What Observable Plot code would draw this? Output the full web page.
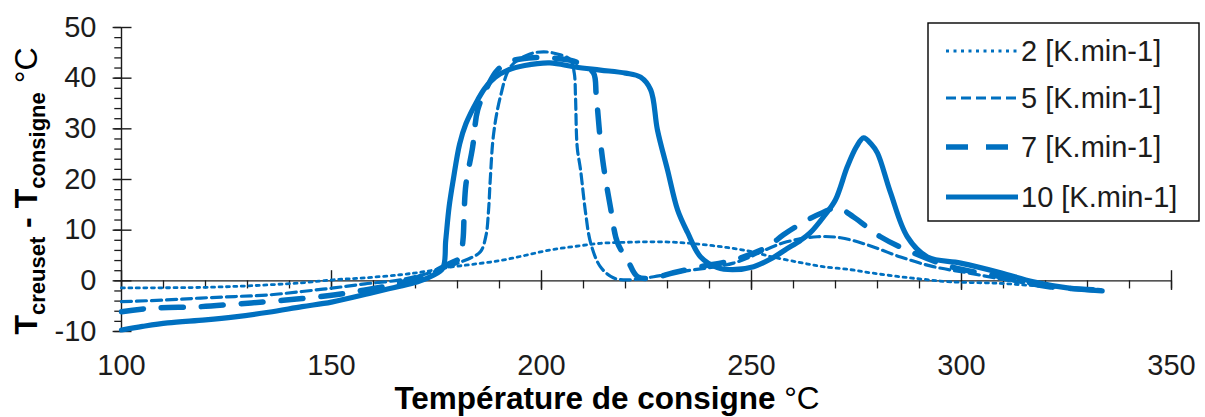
<!DOCTYPE html>
<html><head><meta charset="utf-8">
<script src="https://cdn.jsdelivr.net/npm/d3@7"></script>
<script src="https://cdn.jsdelivr.net/npm/@observablehq/plot@0.6"></script>
<style>
html,body{margin:0;padding:0;background:#fff;}
#chart{width:1205px;height:417px;overflow:hidden;}
</style></head><body><div id="chart"></div>
<script>
// ---- data ----
const seriesNames = ["2 [K.min-1]", "5 [K.min-1]", "7 [K.min-1]", "10 [K.min-1]"];

const t2 = [100, 118.8, 130, 142.6, 150.5, 158, 166.4, 172, 178.3, 184, 190.2, 196, 202.1, 208, 214, 220, 226, 232, 237.9, 244, 249.8, 255, 261.7, 267, 273.6, 279, 285.5, 291, 297.4, 309.3, 321.2, 333.5];
const v2 = [-1.4, -1.3, -1.0, -0.4, 0.2, 0.6, 1.2, 1.8, 2.7, 3.3, 4.0, 5.0, 6.1, 6.8, 7.4, 7.6, 7.7, 7.6, 7.2, 6.6, 5.8, 4.7, 3.6, 2.8, 2.2, 1.5, 0.8, 0.3, -0.2, -0.5, -1.2, -1.7];

const t5 = [100, 110, 118.8, 127, 134.8, 143, 150.5, 158, 166.4, 174.3, 178, 180.7, 183.1, 185.5, 186.8, 187.4, 187.8, 188.6, 190.2, 192.6, 196.7, 200.5, 204.5, 206.9, 207.8, 208.1, 208.5, 209.3, 210.5, 211.7, 214, 217.1, 220.5, 226.7, 233.1, 245.7, 257.6, 265.7, 271.2, 277.6, 285.5, 293.3, 301.4, 313.3, 325.2, 333.5];
const v5 = [-4.1, -3.8, -3.4, -3.1, -2.8, -2.1, -1.4, -0.6, 0.2, 1.8, 2.8, 3.7, 4.5, 5.8, 9, 14, 20, 29, 36.3, 42.2, 44.6, 45.2, 44.6, 43.6, 41, 36.3, 26.4, 21.9, 13.4, 7.5, 2.8, 0.6, 0.2, 0.8, 1.8, 3.5, 7.5, 8.7, 8.5, 7.1, 4.7, 2.8, 1.6, -0.2, -1.4, -1.8];

const t7 = [100, 107, 118.8, 127, 134.8, 143, 150.5, 158, 166.4, 174.3, 178.3, 180.5, 181.3, 181.6, 182, 183.6, 184.8, 187.1, 189.5, 193, 197, 202, 207, 210, 212.4, 213, 213.3, 214, 214.8, 216.4, 218.1, 220.5, 222.9, 226.7, 231.4, 237.9, 245.7, 253.8, 257.6, 263.3, 267, 270.5, 274.3, 280.7, 288.6, 297.4, 309.3, 321.2, 333.5];
const v7 = [-6.1, -5.4, -5.1, -4.6, -4.1, -3.5, -2.8, -1.8, -0.4, 1.8, 3.5, 4.5, 8, 14, 19, 26.4, 33.7, 38.3, 41.6, 43.4, 44, 44, 43.5, 42.5, 41, 37, 34.3, 27.8, 22.5, 14.6, 7.5, 4.1, 0.8, 0.6, 1.6, 2.8, 4.1, 6.7, 9.1, 12, 13.5, 14.4, 12.6, 8.7, 5.5, 2.8, 0.8, -1.2, -1.8];

const t10 = [100, 105, 111, 120, 127, 135, 143, 150, 159, 165, 170.5, 174, 176.5, 177.2, 178, 179, 180.5, 182, 184.8, 186.5, 189, 192, 196, 202, 208, 214, 220, 223.6, 226, 227.6, 230, 232.4, 234.8, 237.9, 241.9, 245.5, 250.5, 255, 258, 261.7, 264, 267.5, 270, 272.8, 275, 276.7, 278.5, 280, 283.1, 287.1, 291.9, 299.8, 309.3, 317.1, 325.2, 333.5];
const v10 = [-9.7, -9.0, -8.3, -7.7, -7.1, -6.2, -5.1, -4.2, -2.5, -1.3, -0.2, 1.0, 2.5, 8, 14.6, 20, 27, 31, 35.7, 38, 40.2, 41.6, 42.5, 43, 42.2, 41.6, 41, 40.2, 37.7, 29.8, 21.9, 14, 9.5, 4.7, 2.6, 2.2, 2.8, 4.5, 6.1, 8, 9.5, 13, 16, 22.5, 26.5, 28.2, 27, 25.2, 17.4, 8.7, 4.7, 3.5, 1.6, -0.2, -1.4, -2.0];

const xMajor = [100, 150, 200, 250, 300, 350];
const xMinor = d3.range(100, 351, 10);
const yMajor = [-10, 0, 10, 20, 30, 40, 50];
const yMinor = d3.range(-10, 51, 2);

// ---- build table ----
const tables = [[t2, v2], [t5, v5], [t7, v7], [t10, v10]];
const rows = [];
tables.forEach(([t, v], k) => t.forEach((x, i) => rows.push({series: seriesNames[k], t: x, v: v[i]})));

const BLUE = "#0070C0";
const INK = "#1c1c1c";
const styles = {
  "2 [K.min-1]": {w: 2.8, dash: "3,4.5"},
  "5 [K.min-1]": {w: 3.2, dash: "10,5"},
  "7 [K.min-1]": {w: 5.5, dash: "22,18"},
  "10 [K.min-1]": {w: 5.2, dash: null}
};
const FONT = "'Liberation Sans', Arial, sans-serif";

const lineMarks = seriesNames.map(s => Plot.line(rows.filter(r => r.series === s), {
  x: "t", y: "v", stroke: BLUE, strokeWidth: styles[s].w,
  strokeDasharray: styles[s].dash, curve: "catmull-rom",
  strokeLinejoin: "round"
}));

const plot = Plot.plot({
  width: 1205, height: 417,
  marginLeft: 121, marginRight: 34, marginTop: 27, marginBottom: 86,
  x: {domain: [100, 350]},
  y: {domain: [-10, 50]},
  style: {fontFamily: FONT, fontSize: "29px", color: INK, background: "white"},
  marks: [
    Plot.ruleX([100], {stroke: INK, strokeWidth: 1.4}),
    Plot.ruleY([0], {stroke: INK, strokeWidth: 1.4}),
    Plot.ruleY(yMinor, {y: d => d, x1: 98.4, x2: 100, stroke: INK, strokeWidth: 1.3}),
    Plot.ruleY(yMajor, {y: d => d, x1: 98.0, x2: 102.5, stroke: INK, strokeWidth: 1.4}),
    Plot.ruleX(xMinor, {x: d => d, y1: 0, y2: -1.6, stroke: INK, strokeWidth: 1.3}),
    Plot.ruleX(xMajor, {x: d => d, y1: -1.9, y2: 2, stroke: INK, strokeWidth: 1.4}),
    Plot.axisX({ticks: xMajor, tickSize: 0, tickPadding: 23, label: null, tickFormat: d => String(d), fill: INK}),
    Plot.axisY({ticks: yMajor, tickSize: 0, tickPadding: 25, label: null, tickFormat: d => String(d), fill: INK}),
    ...lineMarks
  ]
});
document.getElementById("chart").appendChild(plot);

// ---- titles and legend ----
const svg = d3.select(plot);
const xl = svg.append("text")
  .attr("x", 607).attr("y", 409)
  .attr("text-anchor", "middle")
  .attr("font-family", FONT).attr("font-size", 31.5).attr("fill", "#000");
xl.append("tspan").attr("font-weight", "bold").text("Température de consigne");
xl.append("tspan").text(" °C");

const yl = svg.append("text")
  .attr("transform", "translate(37,191) rotate(-90)")
  .attr("text-anchor", "middle")
  .attr("font-family", FONT).attr("font-size", 32).attr("fill", "#000");
yl.append("tspan").attr("font-weight", "bold").text("T");
yl.append("tspan").attr("font-weight", "bold").attr("font-size", 22).attr("dy", 8).text("creuset");
yl.append("tspan").attr("font-weight", "bold").attr("dy", -8).text(" - T");
yl.append("tspan").attr("font-weight", "bold").attr("font-size", 22).attr("dy", 8).text("consigne");
yl.append("tspan").attr("dy", -8).text(" °C");

const lg = svg.append("g");
lg.append("rect").attr("x", 928).attr("y", 23).attr("width", 271).attr("height", 198)
  .attr("fill", "white").attr("stroke", "#000").attr("stroke-width", 1.4);
const rowY = [51, 98, 147, 197];
seriesNames.forEach((s, i) => {
  lg.append("line").attr("x1", 946).attr("x2", 1018).attr("y1", rowY[i]).attr("y2", rowY[i])
    .attr("stroke", BLUE).attr("stroke-width", styles[s].w)
    .attr("stroke-dasharray", styles[s].dash);
  lg.append("text").attr("x", 1021).attr("y", rowY[i] + 10)
    .attr("text-anchor", "start")
    .attr("font-family", FONT).attr("font-size", 29).attr("fill", INK).text(s);
});
</script>
</body></html>
